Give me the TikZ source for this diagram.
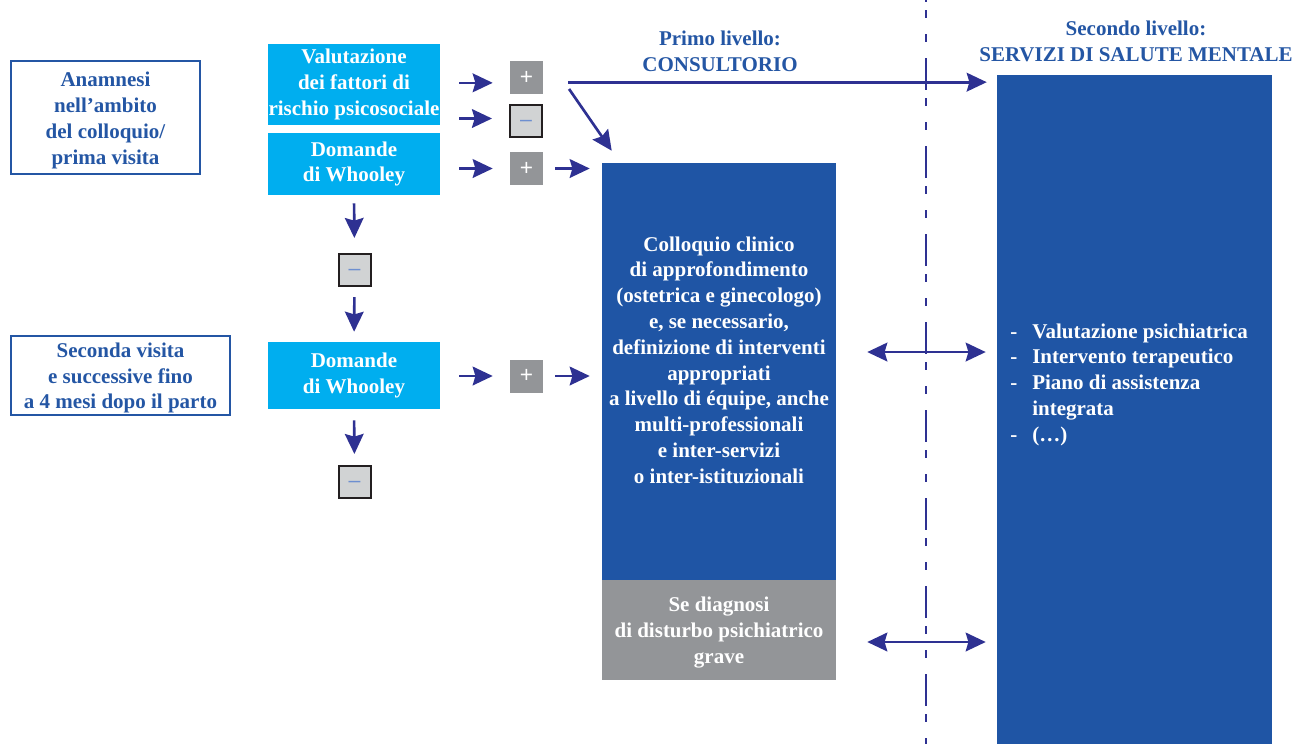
\documentclass[tikz,border=0pt]{standalone}
\usepackage{fontspec}
\setmainfont{Liberation Serif}
\newfontfamily\sansf{Liberation Sans}
\usetikzlibrary{arrows.meta}
\definecolor{txtblue}{HTML}{2456A4}
\definecolor{boxblue}{HTML}{1F55A5}
\definecolor{lblue}{HTML}{00AEEF}
\definecolor{navy}{HTML}{2E3192}
\definecolor{gbox}{HTML}{939598}
\definecolor{mfill}{HTML}{D1D3D4}
\definecolor{mline}{HTML}{231F20}
\definecolor{msign}{HTML}{6D8FD0}
\newcommand{\msgn}{\raisebox{-4.2pt}[0pt][0pt]{–}}
\begin{document}
\begin{tikzpicture}[x=0.75pt,y=-0.75pt,
  every node/.style={inner sep=0pt, align=center, font=\bfseries\fontsize{15.75}{19.35}\selectfont},
  outbox/.style={draw=txtblue, line width=1.5pt, text=txtblue},
  lbbox/.style={fill=lblue, text=white, minimum width=129pt},
  plusbox/.style={fill=gbox, text=white, minimum size=24.75pt, font=\sansf\fontsize{17}{17}\selectfont},
  minusbox/.style={fill=mfill, draw=mline, line width=1.5pt, minimum size=24pt, text=msign, font=\sansf\fontsize{16}{16}\selectfont},
  bigbox/.style={fill=boxblue, text=white},
  greybox/.style={fill=gbox, text=white},
  titletxt/.style={text=txtblue},
  arr/.style={draw=navy, line width=2pt, -{Stealth[length=15pt,width=14pt,inset=2pt]}},
  darr/.style={draw=navy, line width=2pt, {Stealth[length=15pt,width=14pt,inset=2pt]}-{Stealth[length=15pt,width=14pt,inset=2pt]}},
  dashline/.style={draw=navy, line width=1.9pt, dash pattern=on 24pt off 6pt on 6pt off 12pt on 6pt off 12pt}
]
\useasboundingbox (0,0) rectangle (1311,744);

% dashed separator
\draw[dashline] (926,-30) -- (926,744);

% titles
\node[titletxt] (t1) at (720,51.5) {Primo livello:\\CONSULTORIO};
\node[titletxt] (t2) at (1136,41) {Secondo livello:\\SERVIZI DI SALUTE MENTALE};

% left outline boxes
\node[outbox, minimum width=141.75pt, minimum height=84.75pt] (ana) at (105.5,117.5) {};
\node[text=txtblue] (anatxt) at (105.5,120.5) {Anamnesi\\nell’ambito\\del colloquio/\\prima visita};
\node[outbox, minimum width=164.25pt, minimum height=59.25pt] (sec) at (120.5,375.5) {};
\node[text=txtblue] (sectxt) at (120.5,378) {Seconda visita\\e successive fino\\a 4 mesi dopo il parto};

% light blue boxes
\node[lbbox, minimum height=60.75pt] (lb1) at (354,84.5) {Valutazione\\dei fattori di\\rischio psicosociale};
\node[lbbox, minimum height=46.5pt] (lb2) at (354,164) {Domande\\di Whooley};
\node[lbbox, minimum height=50.25pt] (lb3) at (354,375.5) {Domande\\di Whooley};

% plus / minus boxes
\node[plusbox] (plus1) at (526.5,77.5) {+};
\node[minusbox] (min1) at (526,120.5) {\msgn};
\node[plusbox] (plus2) at (526.5,168.5) {+};
\node[plusbox] (plus3) at (526.5,376) {+};
\node[minusbox] (minA) at (354.5,269.5) {\msgn};
\node[minusbox] (minB) at (354.5,481.5) {\msgn};

% central boxes
\node[bigbox, minimum width=175.5pt, minimum height=312.75pt] (big) at (719,371.5) {};
\node[text=white] (bigtxt) at (719,360) {Colloquio clinico\\di approfondimento\\(ostetrica e ginecologo)\\e, se necessario,\\definizione di interventi\\appropriati\\a livello di équipe, anche\\multi-professionali\\e inter-servizi\\o inter-istituzionali};
\node[greybox, minimum width=175.5pt, minimum height=75pt] (grey) at (719,630) {};
\node[text=white] (greytxt) at (719,632.5) {Se diagnosi\\di disturbo psichiatrico\\grave};

% right box
\node[bigbox, minimum width=206.25pt, minimum height=501.75pt] (right) at (1134.5,409.5) {};
\node[text=white, anchor=base west] (rtxt) at (1010,338) {\begin{tabular}[t]{@{}l@{\hspace{11.25pt}}l@{}}
-&Valutazione psichiatrica\\
-&Intervento terapeutico\\
-&Piano di assistenza\\
 &integrata\\
-&(…)
\end{tabular}};

% arrows into plus/minus
\coordinate (p1in) at ([yshift=-4pt]plus1.west);
\draw[arr, shorten <=14.25pt, shorten >=12.75pt] (lb1.east |- p1in) -- (p1in);
\coordinate (m1in) at ([yshift=1.5pt]min1.west);
\draw[arr, shorten <=14.25pt, shorten >=12.75pt] (lb1.east |- m1in) -- (m1in);
\draw[arr, shorten <=14.25pt, shorten >=12.75pt] (lb2.east |- plus2.west) -- (plus2.west);
\draw[arr, shorten <=14.25pt, shorten >=12.75pt] (lb3.east |- plus3.west) -- (plus3.west);

% arrows to big box
\draw[arr, shorten <=9pt, shorten >=9pt] (plus2.east) -- (plus2.east -| big.west);
\draw[arr, shorten <=9pt, shorten >=9pt] (plus3.east) -- (plus3.east -| big.west);
\draw[arr] ([shift={(31.9pt,-8.6pt)}]plus1.center) -- ([shift={(7.5pt,9pt)}]big.north west);

% long arrow to second level
\coordinate (p1out) at ([yshift=-3.5pt]plus1.east);
\draw[arr, shorten <=18.75pt, shorten >=7.5pt] (p1out) -- (p1out -| right.west);

% vertical arrows
\draw[arr, shorten <=6pt, shorten >=10.9pt] (lb2.south) -- (minA.north);
\draw[arr, shorten <=7.9pt, shorten >=7.5pt] (minA.south) -- (lb3.north);
\draw[arr, shorten <=8.25pt, shorten >=7.9pt] (lb3.south) -- (minB.north);

% double arrows
\coordinate (dA) at ([yshift=14.6pt]big.east);
\draw[darr, shorten <=23.25pt, shorten >=8.25pt] (dA) -- (dA -| right.west);
\coordinate (dB) at ([yshift=-9pt]grey.east);
\draw[darr, shorten <=23.25pt, shorten >=8.25pt] (dB) -- (dB -| right.west);
\end{tikzpicture}
\end{document}
